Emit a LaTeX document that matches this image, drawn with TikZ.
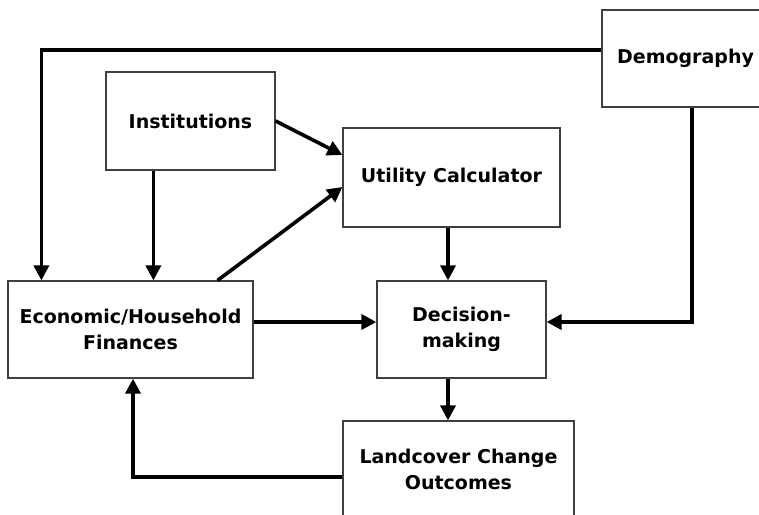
\documentclass[tikz,border=0pt]{standalone}
\usepackage{fontspec}
\setmainfont{DejaVu Sans}
\usetikzlibrary{arrows.meta}

\tikzset{
	box/.style = {draw = black!75, line width = 1.2pt, fill = white, align = center,
		font = \fontsize{19}{26}\selectfont\bfseries, inner sep = 0pt},
	link/.style = {line width = 3.6pt, line join = miter,
		-{Triangle[length = 15pt, width = 15pt]}}
}

\begin{document}
\begin{tikzpicture}[x = 1pt, y = -1pt]
	
	\clip (0,0) rectangle (759,514);
	\useasboundingbox (0,0) rectangle (759,514);
	
	% Boxes
	\node [box, minimum width = 169pt, minimum height = 98pt] (inst) at (190.5, 121)   {Institutions};
	\node [box, minimum width = 217pt, minimum height = 99pt] (util) at (451.5, 177.5) {Utility Calculator};
	\node [box, minimum width = 167pt, minimum height = 97pt] (dem)  at (685.5, 58.5)  {Demography};
	\node [box, minimum width = 245pt, minimum height = 97pt] (econ) at (130.5, 329.5) {Economic/Household\\Finances};
	\node [box, minimum width = 169pt, minimum height = 97pt] (dec)  at (461.5, 329.5) {Decision-\\making};
	\node [box, minimum width = 231pt, minimum height = 97pt] (land) at (458.5, 469.5) {Landcover Change\\Outcomes};
	
	% Demography feeds the household side and the decision
	\draw [link] ([yshift = 8.5pt]dem.west) -| ([xshift = 34pt]econ.north west);
	\draw [link] ([xshift = 6.5pt]dem.south) |- ([yshift = 7.5pt]dec.east);
	
	% Institutions
	\draw [link] ([xshift = 48pt]inst.south west) -- ([xshift = 48pt]inst.south west |- econ.north);
	\draw [link] (inst.east) -- ([yshift = 22.5pt]util.west);
	
	% Household finances
	\draw [link] ([xshift = -36pt]econ.north east) -- ([yshift = -9.5pt]util.west);
	\draw [link] ([yshift = 7.5pt]econ.east) -- ([yshift = 7.5pt]dec.west);
	
	% Down the middle
	\draw [link] ([xshift = -3.5pt]util.south) -- ([xshift = -3.5pt]util.south |- dec.north);
	\draw [link] ([xshift = -13.5pt]dec.south) -- ([xshift = -13.5pt]dec.south |- land.north);
	
	% Feedback loop
	\draw [link] ([yshift = -7.5pt]land.west) -| ([xshift = 2.5pt]econ.south);
	
\end{tikzpicture}
\end{document}
